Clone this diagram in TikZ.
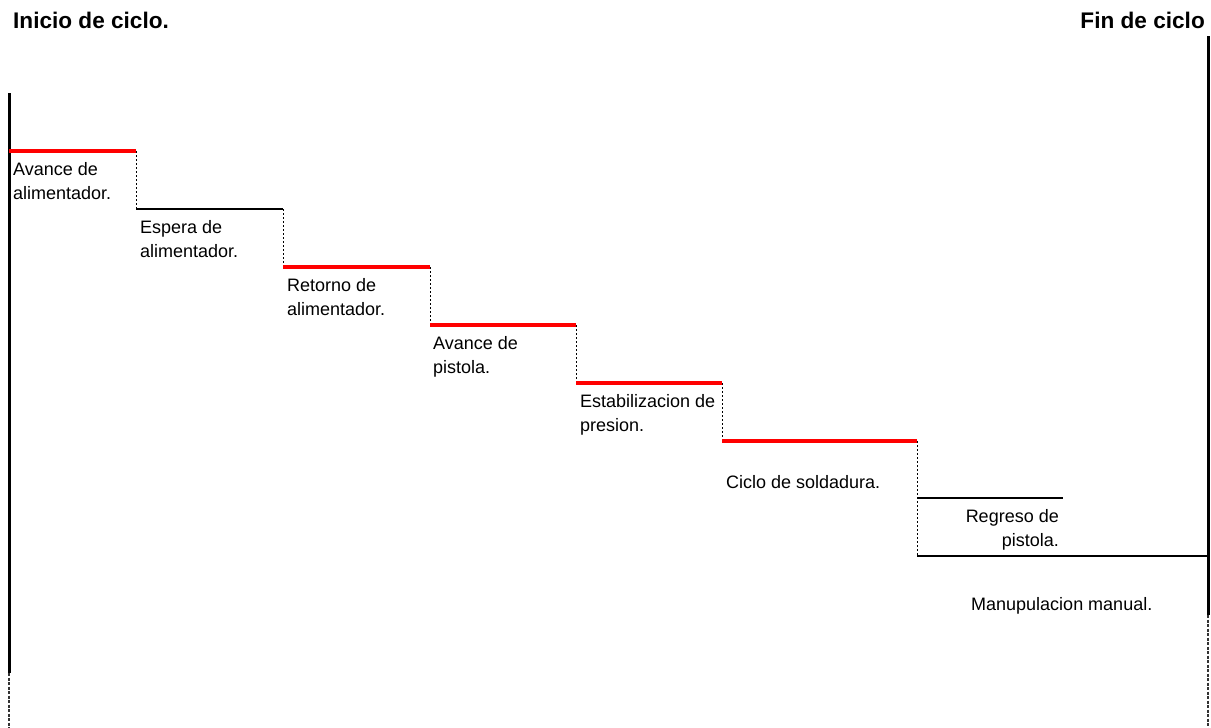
\documentclass[tikz,border=0pt]{standalone}
\usepackage{fontspec}
\setmainfont{Liberation Sans}
\begin{document}
\begin{tikzpicture}[x=1pt,y=-1pt,
  lbl/.style={inner sep=0pt, anchor=north west, align=left, font=\fontsize{18}{24}\selectfont},
  lblr/.style={lbl, anchor=north east, align=right},
  ttl/.style={inner sep=0pt, font=\fontsize{22.6}{26}\selectfont\bfseries},
  redstep/.style={draw=red, line width=3.5pt},
  blkstep/.style={draw=black, line width=2.5pt},
  drop/.style={line width=1pt, dash pattern=on 2pt off 2pt},
  bar/.style={line width=3pt},
  tail/.style={line width=1.2pt, dash pattern=on 3pt off 1.5pt, black!80}]
\useasboundingbox (0,0) rectangle (1211,728);

% step corners
\coordinate (a0) at (9,151);   \coordinate (a1) at (136,151);
\coordinate (b0) at (136,209); \coordinate (b1) at (283,209);
\coordinate (c0) at (283,267); \coordinate (c1) at (430,267);
\coordinate (d0) at (430,325); \coordinate (d1) at (576,325);
\coordinate (e0) at (576,383); \coordinate (e1) at (722,383);
\coordinate (f0) at (722,441); \coordinate (f1) at (917,441);
\coordinate (g0) at (917,498); \coordinate (g1) at (1063,498);
\coordinate (h0) at (917,556); \coordinate (h1) at (1208,556);

% start and end bars
\coordinate (ls) at (9,93);    \coordinate (le) at (9,673);   \coordinate (lt) at (9,728);
\coordinate (rs) at (1208,36); \coordinate (re) at (1208,615); \coordinate (rt) at (1208,728);
\draw[bar] (ls) -- (le);
\draw[tail] (le) -- (lt);
\draw[bar] (rs) -- (re);
\draw[tail] (re) -- (rt);

% dotted drops between steps
\draw[drop] (a1) -- (b0);
\draw[drop] (b1) -- (c0);
\draw[drop] (c1) -- (d0);
\draw[drop] (d1) -- (e0);
\draw[drop] (e1) -- (f0);
\draw[drop] (f1) -- (h0);

% steps
\draw[redstep] (a0) -- (a1);
\draw[blkstep] (b0) -- (b1);
\draw[redstep] (c0) -- (c1);
\draw[redstep] (d0) -- (d1);
\draw[redstep] (e0) -- (e1);
\draw[redstep] (f0) -- (f1);
\draw[blkstep] (g0) -- (g1);
\draw[blkstep] (h0) -- (h1);

% titles
\node[ttl, anchor=base west] (inicio) at (13,28) {Inicio de ciclo.};
\node[ttl, anchor=base east] (fin) at (1205,28) {Fin de ciclo};

% step labels
\node[lbl] (l1) at (13,162)  {Avance de\\alimentador.};
\node[lbl] (l2) at (140,220) {Espera de\\alimentador.};
\node[lbl] (l3) at (287,278) {Retorno de\\alimentador.};
\node[lbl] (l4) at (433,336) {Avance de\\pistola.};
\node[lbl] (l5) at (580,394) {Estabilizacion de\\presion.};
\node[lbl] (l6) at (726,475) {Ciclo de soldadura.};
\node[lblr] (l7) at (1059,509) {Regreso de\\pistola.};
\node[lbl] (l8) at (971,597) {Manupulacion manual.};
\end{tikzpicture}
\end{document}
